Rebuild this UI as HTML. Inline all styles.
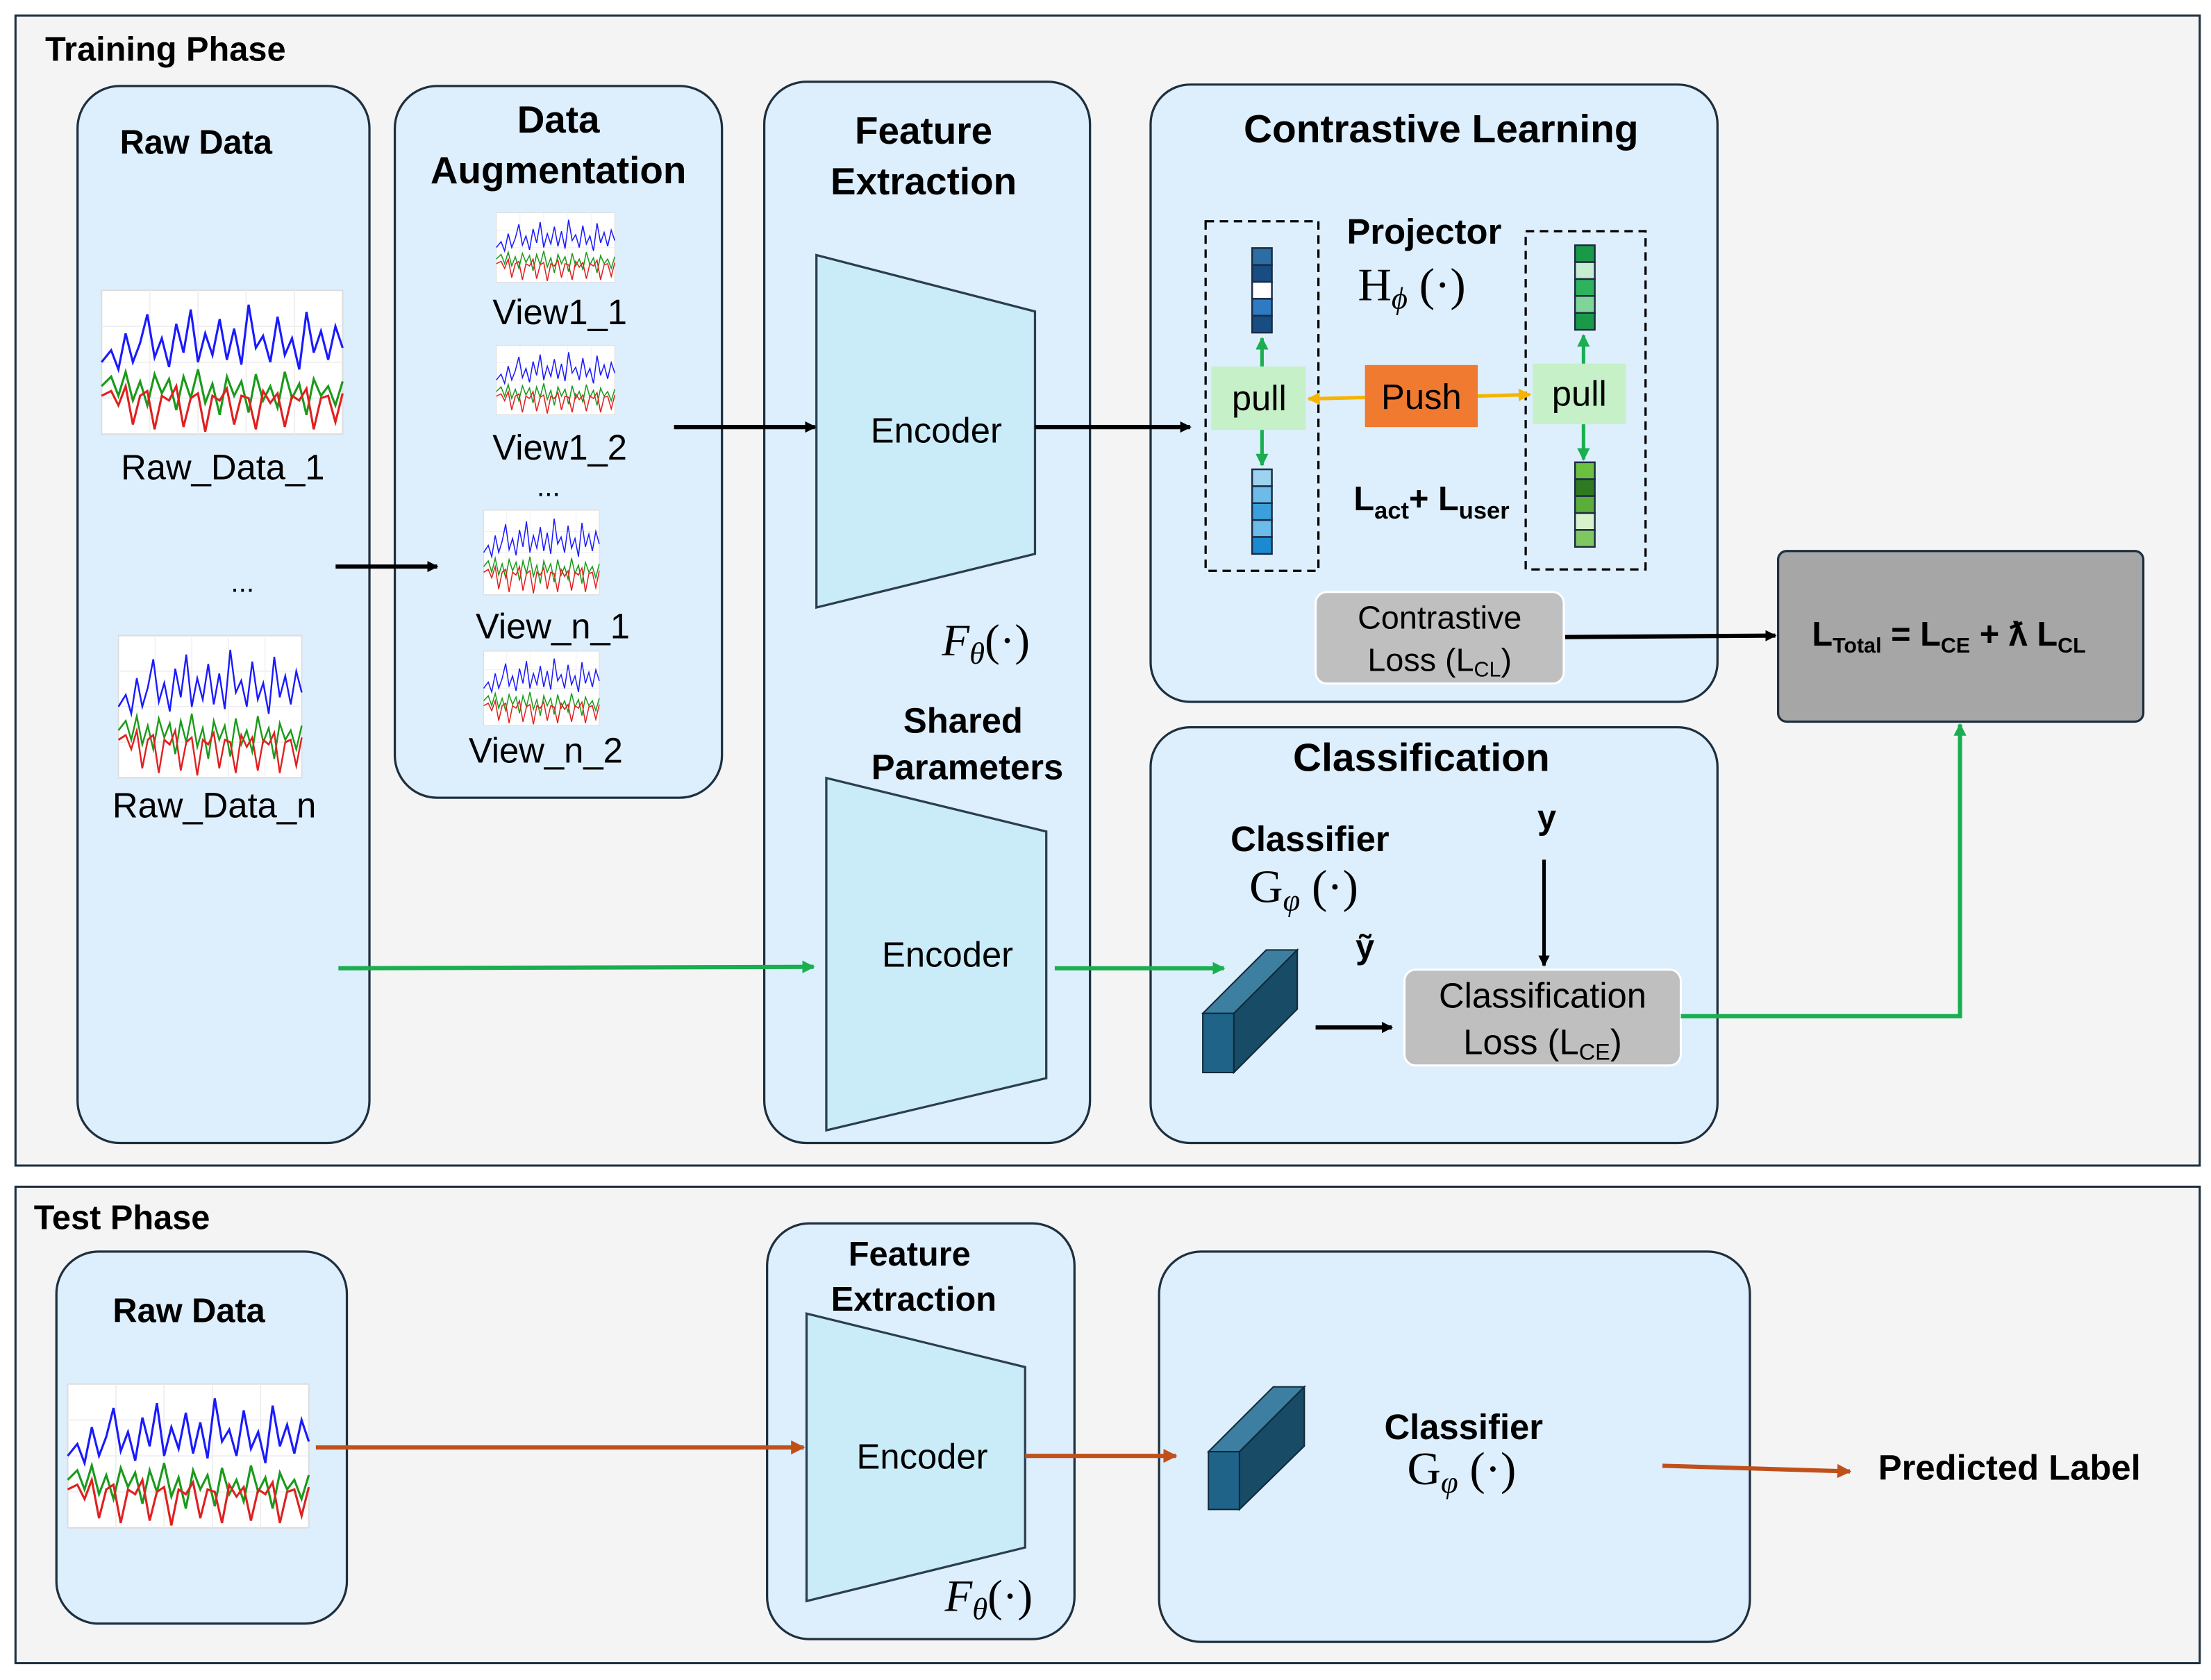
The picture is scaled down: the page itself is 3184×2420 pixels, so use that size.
<!DOCTYPE html>
<html><head><meta charset="utf-8"><style>
html,body{margin:0;padding:0;background:#fff}
svg{display:block}
text{font-family:"Liberation Sans",sans-serif;fill:#000}
.b{font-weight:bold}
.m{font-family:"Liberation Serif",serif}
</style></head><body>
<svg width="3184" height="2420" viewBox="0 0 1568 1192" preserveAspectRatio="none" xmlns="http://www.w3.org/2000/svg">
<defs>
<marker id="ak" markerWidth="8" markerHeight="8" refX="7" refY="4" orient="auto" markerUnits="userSpaceOnUse"><path d="M0,0 L8,4 L0,8z" fill="#000"/></marker>
<marker id="ag" markerWidth="9" markerHeight="9" refX="8" refY="4.5" orient="auto" markerUnits="userSpaceOnUse"><path d="M0,0 L9,4.5 L0,9z" fill="#1aae50"/></marker>
<marker id="ao" markerWidth="10" markerHeight="10" refX="9" refY="5" orient="auto" markerUnits="userSpaceOnUse"><path d="M0,0 L10,5 L0,10z" fill="#c0501a"/></marker>
<marker id="ay" markerWidth="9" markerHeight="9" refX="8" refY="4.5" orient="auto" markerUnits="userSpaceOnUse"><path d="M0,0 L9,4.5 L0,9z" fill="#f5b400"/></marker>
<g id="plot">
<rect x="0" y="0" width="100" height="60" fill="#fff" stroke="#ddd" stroke-width="0.6"/>
<path d="M0,15H100M0,30H100M0,45H100M20,0V60M40,0V60M60,0V60M80,0V60" stroke="#eee" stroke-width="0.5"/>
<polyline fill="none" stroke="#1a1aff" stroke-width="0.9" points="0,30 4,25 7,33 10,18 13,30 16,22 19,10 22,28 25,20 28,32 31,14 34,26 37,8 40,30 43,18 46,27 49,12 52,29 55,16 58,31 61,6 64,24 67,19 70,30 73,11 76,27 79,20 82,33 85,9 88,26 91,17 94,29 97,15 100,24"/>
<polyline fill="none" stroke="#1a9a1a" stroke-width="0.9" points="0,40 4,36 7,44 10,34 13,46 16,38 19,48 22,35 25,43 28,37 31,50 34,36 37,45 40,33 43,47 46,39 49,52 52,36 55,44 58,38 61,51 64,35 67,46 70,40 73,49 76,34 79,45 82,39 85,52 88,37 91,44 94,40 97,48 100,38"/>
<polyline fill="none" stroke="#e02020" stroke-width="0.9" points="0,44 4,42 7,48 10,40 13,56 16,44 19,42 22,58 25,44 28,46 31,40 34,57 37,45 40,43 43,59 46,44 49,46 52,41 55,56 58,44 61,45 64,58 67,42 70,47 73,43 76,57 79,44 82,46 85,41 88,58 91,45 94,44 97,55 100,43"/>
</g>
</defs>
<rect width="1568" height="1192" fill="#fff"/>
<rect x="11" y="11" width="1549" height="816" fill="#f4f4f4" stroke="#1e2f3e" stroke-width="1.5"/>
<text x="32" y="43" class="b" font-size="24">Training Phase</text>
<g fill="#ddeefc" stroke="#1e2f3e" stroke-width="1.6">
<rect x="55" y="61" width="207" height="750" rx="30"/>
<rect x="280" y="61" width="232" height="505" rx="30"/>
<rect x="542" y="58" width="231" height="753" rx="30"/>
<rect x="816" y="60" width="402" height="438" rx="28"/>
<rect x="816" y="516" width="402" height="295" rx="28"/>
</g>
<text x="85" y="109" class="b" font-size="24">Raw Data</text>
<use href="#plot" transform="translate(72,206) scale(1.71,1.7)"/>
<text x="158" y="340" font-size="25" text-anchor="middle">Raw_Data_1</text>
<text x="172" y="420" font-size="20" text-anchor="middle">...</text>
<use href="#plot" transform="translate(84,451) scale(1.3,1.68)"/>
<text x="152" y="580" font-size="25" text-anchor="middle">Raw_Data_n</text>

<text x="396" y="94" class="b" font-size="27" text-anchor="middle">Data</text>
<text x="396" y="130" class="b" font-size="27" text-anchor="middle">Augmentation</text>
<use href="#plot" transform="translate(352,151) scale(0.84,0.82)"/>
<text x="397" y="230" font-size="25" text-anchor="middle">View1_1</text>
<use href="#plot" transform="translate(352,245) scale(0.84,0.82)"/>
<text x="397" y="326" font-size="25" text-anchor="middle">View1_2</text>
<text x="389" y="352" font-size="20" text-anchor="middle">...</text>
<use href="#plot" transform="translate(343,362) scale(0.82,1.0)"/>
<text x="392" y="453" font-size="25" text-anchor="middle">View_n_1</text>
<use href="#plot" transform="translate(343,462) scale(0.82,0.88)"/>
<text x="387" y="541" font-size="25" text-anchor="middle">View_n_2</text>

<text x="655" y="102" class="b" font-size="27" text-anchor="middle">Feature</text>
<text x="655" y="138" class="b" font-size="27" text-anchor="middle">Extraction</text>
<polygon points="579,181 734,221 734,393 579,431" fill="#c9ecf8" stroke="#2b3e50" stroke-width="1.6"/>
<text x="664" y="314" font-size="25" text-anchor="middle">Encoder</text>
<text x="668" y="465" class="m" font-size="32" font-style="italic">F<tspan font-size="22" dy="6">θ</tspan><tspan dy="-6" font-style="normal">(·)</tspan></text>
<text x="683" y="520" class="b" font-size="25" text-anchor="middle">Shared</text>
<text x="686" y="553" class="b" font-size="25" text-anchor="middle">Parameters</text>
<polygon points="586,552 742,590 742,765 586,802" fill="#c9ecf8" stroke="#2b3e50" stroke-width="1.6"/>
<text x="672" y="686" font-size="25" text-anchor="middle">Encoder</text>

<line x1="238" y1="402" x2="310" y2="402" stroke="#000" stroke-width="3" marker-end="url(#ak)"/>
<line x1="478" y1="303" x2="578" y2="303" stroke="#000" stroke-width="3" marker-end="url(#ak)"/>
<line x1="734" y1="303" x2="844" y2="303" stroke="#000" stroke-width="3" marker-end="url(#ak)"/>
<line x1="240" y1="687" x2="577" y2="686" stroke="#1aae50" stroke-width="3" marker-end="url(#ag)"/>
<line x1="748" y1="687" x2="868" y2="687" stroke="#1aae50" stroke-width="3" marker-end="url(#ag)"/>

<text x="1022" y="101" class="b" font-size="28" text-anchor="middle">Contrastive Learning</text>
<rect x="855" y="157" width="80" height="248" fill="none" stroke="#000" stroke-width="1.6" stroke-dasharray="6,4"/>
<rect x="1082" y="164" width="85" height="240" fill="none" stroke="#000" stroke-width="1.6" stroke-dasharray="6,4"/>
<text x="1010" y="173" class="b" font-size="25" text-anchor="middle">Projector</text>
<text x="963" y="213" class="m" font-size="33">H<tspan font-size="22" dy="6" font-style="italic">ϕ</tspan><tspan dy="-6"> (·)</tspan></text>
<g stroke="#1b2b44" stroke-width="1.2">
<rect x="888" y="176" width="14" height="12" fill="#2c6ea3"/><rect x="888" y="188" width="14" height="12" fill="#174d80"/><rect x="888" y="200" width="14" height="12" fill="#fff"/><rect x="888" y="212" width="14" height="12" fill="#2e7bc4"/><rect x="888" y="224" width="14" height="12" fill="#174d80"/>
<rect x="888" y="333" width="14" height="12" fill="#9dd3ef"/><rect x="888" y="345" width="14" height="12" fill="#6cbbe8"/><rect x="888" y="357" width="14" height="12" fill="#3aa0dc"/><rect x="888" y="369" width="14" height="12" fill="#6cbbe8"/><rect x="888" y="381" width="14" height="12" fill="#1c8ad0"/>
<rect x="1117" y="174" width="14" height="12" fill="#1a9a48"/><rect x="1117" y="186" width="14" height="12" fill="#c6ecd2"/><rect x="1117" y="198" width="14" height="12" fill="#2db35c"/><rect x="1117" y="210" width="14" height="12" fill="#7fd49a"/><rect x="1117" y="222" width="14" height="12" fill="#1a9a48"/>
<rect x="1117" y="328" width="14" height="12" fill="#6cc040"/><rect x="1117" y="340" width="14" height="12" fill="#2f7a20"/><rect x="1117" y="352" width="14" height="12" fill="#5cae3a"/><rect x="1117" y="364" width="14" height="12" fill="#d9f2cc"/><rect x="1117" y="376" width="14" height="12" fill="#7fc860"/>
</g>
<rect x="859" y="260" width="67" height="45" fill="#c6f0c8"/>
<text x="893" y="291" font-size="25" text-anchor="middle">pull</text>
<rect x="1087" y="258" width="66" height="43" fill="#c6f0c8"/>
<text x="1120" y="288" font-size="25" text-anchor="middle">pull</text>
<rect x="968" y="259" width="80" height="44" fill="#ef7a30"/>
<text x="1008" y="290" font-size="25" text-anchor="middle">Push</text>
<line x1="895" y1="260" x2="895" y2="240" stroke="#1aae50" stroke-width="2.5" marker-end="url(#ag)"/>
<line x1="895" y1="305" x2="895" y2="330" stroke="#1aae50" stroke-width="2.5" marker-end="url(#ag)"/>
<line x1="1123" y1="258" x2="1123" y2="238" stroke="#1aae50" stroke-width="2.5" marker-end="url(#ag)"/>
<line x1="1123" y1="301" x2="1123" y2="326" stroke="#1aae50" stroke-width="2.5" marker-end="url(#ag)"/>
<line x1="968" y1="282" x2="928" y2="283" stroke="#f5b400" stroke-width="2.5" marker-end="url(#ay)"/>
<line x1="1048" y1="281" x2="1085" y2="280" stroke="#f5b400" stroke-width="2.5" marker-end="url(#ay)"/>
<text x="960" y="362" class="b" font-size="24">L<tspan font-size="17" dy="6">act</tspan><tspan dy="-6">+ L</tspan><tspan font-size="17" dy="6">user</tspan></text>
<rect x="933" y="420" width="176" height="65" rx="8" fill="#bfbfbf" stroke="#fff" stroke-width="1.5"/>
<text x="1021" y="446" font-size="23" text-anchor="middle">Contrastive</text>
<text x="1021" y="476" font-size="23" text-anchor="middle">Loss (L<tspan font-size="15" dy="4">CL</tspan><tspan dy="-4">)</tspan></text>
<line x1="1110" y1="452" x2="1259" y2="451" stroke="#000" stroke-width="3" marker-end="url(#ak)"/>

<rect x="1261" y="391" width="259" height="121" rx="6" fill="#a6a6a6" stroke="#1e2f3e" stroke-width="1.6"/>
<text x="1285" y="458" class="b" font-size="24">L<tspan font-size="15" dy="5">Total</tspan><tspan dy="-5"> = L</tspan><tspan font-size="15" dy="5">CE</tspan><tspan dy="-5"> + ƛ L</tspan><tspan font-size="15" dy="5">CL</tspan></text>

<text x="1008" y="547" class="b" font-size="28" text-anchor="middle">Classification</text>
<text x="929" y="604" class="b" font-size="25" text-anchor="middle">Classifier</text>
<text x="886" y="640" class="m" font-size="33">G<tspan font-size="22" dy="6" font-style="italic">φ</tspan><tspan dy="-6"> (·)</tspan></text>
<text x="1097" y="588" class="b" font-size="24" text-anchor="middle">y</text>
<line x1="1095" y1="610" x2="1095" y2="685" stroke="#000" stroke-width="2.5" marker-end="url(#ak)"/>
<text x="968" y="680" class="b" font-size="24" text-anchor="middle">ỹ</text>
<g stroke="#10283a" stroke-width="1">
<polygon points="853,719 875,719 920,674 898,674" fill="#3d7fa0"/>
<polygon points="875,719 920,674 920,716 875,761" fill="#174b66"/>
<rect x="853" y="719" width="22" height="42" fill="#1f6488"/>
</g>
<line x1="933" y1="729" x2="987" y2="729" stroke="#000" stroke-width="3" marker-end="url(#ak)"/>
<rect x="996" y="688" width="196" height="68" rx="8" fill="#bfbfbf" stroke="#fff" stroke-width="1.5"/>
<text x="1094" y="715" font-size="25" text-anchor="middle">Classification</text>
<text x="1094" y="748" font-size="25" text-anchor="middle">Loss (L<tspan font-size="16" dy="4">CE</tspan><tspan dy="-4">)</tspan></text>
<polyline points="1192,721 1390,721 1390,514" fill="none" stroke="#1aae50" stroke-width="3" marker-end="url(#ag)"/>

<rect x="11" y="842" width="1549" height="338" fill="#f4f4f4" stroke="#1e2f3e" stroke-width="1.5"/>
<text x="24" y="872" class="b" font-size="24">Test Phase</text>
<g fill="#ddeefc" stroke="#1e2f3e" stroke-width="1.6">
<rect x="40" y="888" width="206" height="264" rx="30"/>
<rect x="544" y="868" width="218" height="295" rx="30"/>
<rect x="822" y="888" width="419" height="277" rx="30"/>
</g>
<text x="134" y="938" class="b" font-size="24" text-anchor="middle">Raw Data</text>
<use href="#plot" transform="translate(48,982) scale(1.71,1.7)"/>
<text x="645" y="898" class="b" font-size="24" text-anchor="middle">Feature</text>
<text x="648" y="930" class="b" font-size="24" text-anchor="middle">Extraction</text>
<polygon points="572,932 727,970 727,1098 572,1136" fill="#c9ecf8" stroke="#2b3e50" stroke-width="1.6"/>
<text x="654" y="1042" font-size="25" text-anchor="middle">Encoder</text>
<text x="670" y="1143" class="m" font-size="32" font-style="italic">F<tspan font-size="22" dy="6">θ</tspan><tspan dy="-6" font-style="normal">(·)</tspan></text>
<line x1="224" y1="1027" x2="570" y2="1027" stroke="#c0501a" stroke-width="3" marker-end="url(#ao)"/>
<line x1="727" y1="1033" x2="834" y2="1033" stroke="#c0501a" stroke-width="3" marker-end="url(#ao)"/>
<g stroke="#10283a" stroke-width="1">
<polygon points="857,1030 879,1030 925,984 903,984" fill="#3d7fa0"/>
<polygon points="879,1030 925,984 925,1026 879,1071" fill="#174b66"/>
<rect x="857" y="1030" width="22" height="41" fill="#1f6488"/>
</g>
<text x="1038" y="1021" class="b" font-size="25" text-anchor="middle">Classifier</text>
<text x="998" y="1053" class="m" font-size="33">G<tspan font-size="22" dy="6" font-style="italic">φ</tspan><tspan dy="-6"> (·)</tspan></text>
<line x1="1179" y1="1040" x2="1312" y2="1044" stroke="#c0501a" stroke-width="3" marker-end="url(#ao)"/>
<text x="1332" y="1050" class="b" font-size="25">Predicted Label</text>
</svg>
</body></html>
